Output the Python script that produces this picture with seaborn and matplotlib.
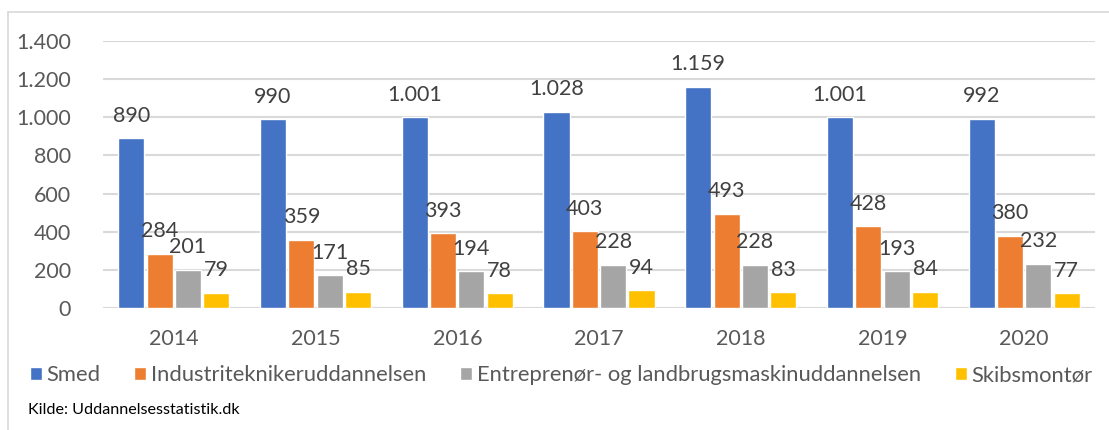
import matplotlib
matplotlib.use("Agg")
import matplotlib.pyplot as plt
import seaborn as sns
import pandas as pd
from matplotlib.lines import Line2D

years = ["2014", "2015", "2016", "2017", "2018", "2019", "2020"]
series_names = ["Smed", "Industriteknikeruddannelsen",
                "Entreprenør- og landbrugsmaskinuddannelsen", "Skibsmontør"]
smed = [890, 990, 1001, 1028, 1159, 1001, 992]
industri = [284, 359, 393, 403, 493, 428, 380]
entreprenoer = [201, 171, 194, 228, 228, 193, 232]
skibsmontoer = [79, 85, 78, 94, 83, 84, 77]
yticks = [0, 200, 400, 600, 800, 1000, 1200, 1400]
source_text = "Kilde: Uddannelsesstatistik.dk"

colors = ["#4472C4", "#ED7D31", "#A5A5A5", "#FFC000"]

rows = []
for name, vals in zip(series_names, [smed, industri, entreprenoer, skibsmontoer]):
    for y, v in zip(years, vals):
        rows.append({"Year": y, "Serie": name, "Value": v})
df = pd.DataFrame(rows)

sns.set_theme(style="white")
plt.rcParams["font.family"] = ["Lato", "DejaVu Sans"]

def dk(v):
    return f"{int(v):,}".replace(",", ".")

FS = 15.5

fig = plt.figure(figsize=(11.09, 4.30), dpi=100)
ax = fig.add_axes([103/1109, 1-308/430, (1095-103)/1109, (308-41)/430])

sns.barplot(data=df, x="Year", y="Value", hue="Serie", order=years,
            hue_order=series_names, palette=colors, width=0.8, gap=0.08,
            saturation=1, ax=ax, legend=True)

ax.set_ylim(0, 1400)
ax.set_yticks(yticks)
ax.set_yticklabels([dk(t) for t in yticks])
ax.set_xlim(-0.5, len(years)-0.5)
ax.set_xlabel("")
ax.set_ylabel("")
ax.yaxis.grid(True, color="#D9D9D9", linewidth=1.5)
ax.set_axisbelow(True)
for s in ["top", "right", "left", "bottom"]:
    ax.spines[s].set_visible(False)
ax.axhline(0, color="#D9D9D9", linewidth=1.5, zorder=0.5)
ax.tick_params(axis="y", length=0, pad=23, labelsize=FS, labelcolor="#595959")
ax.tick_params(axis="x", length=0, pad=15, labelsize=FS, labelcolor="#595959")

for cont in ax.containers:
    ax.bar_label(cont, labels=[dk(b.get_height()) for b in cont],
                 padding=9, fontsize=FS, color="#404040")

handles, labels = ax.get_legend_handles_labels()
ax.get_legend().remove()
fig.legend(handles, labels, loc="center", bbox_to_anchor=(561/1109, 1-375/430),
           ncol=4, frameon=False, fontsize=15.8, handlelength=0.55,
           handleheight=0.55, handletextpad=0.2, columnspacing=1.55,
           labelcolor="#595959")

fig.text(28/1109, 1-410/430, source_text, fontsize=11.6, color="#000000",
         va="center", ha="left")

# chart frame (top and left edges)
fig.add_artist(Line2D([8/1109, 1.0], [1-12/430, 1-12/430], color="#D9D9D9",
                      linewidth=1.2, transform=fig.transFigure))
fig.add_artist(Line2D([8/1109, 8/1109], [0, 1-12/430], color="#D9D9D9",
                      linewidth=1.2, transform=fig.transFigure))

fig.savefig("out.png", dpi=100)
